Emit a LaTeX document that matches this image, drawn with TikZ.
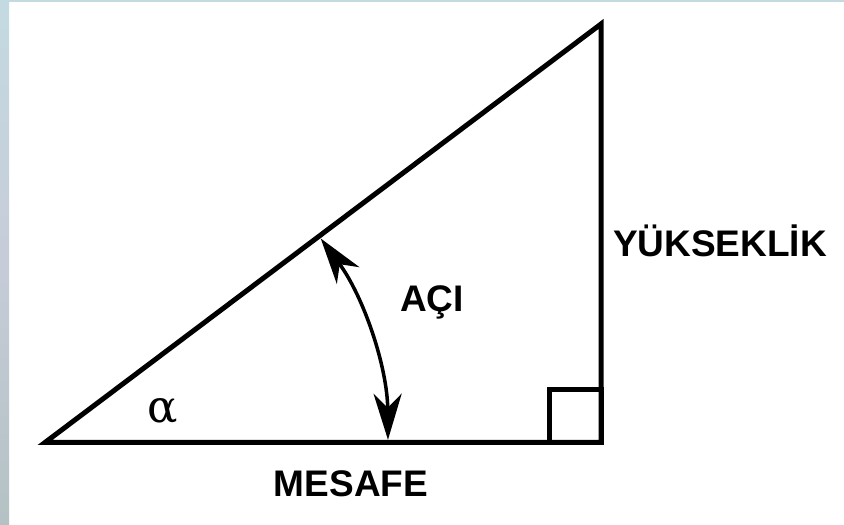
\documentclass[tikz,border=0pt]{standalone}
\usepackage{fontspec}
\setmainfont{Liberation Sans}
\newfontfamily\grserif{DejaVu Serif}
\usetikzlibrary{arrows.meta}
\definecolor{striptop}{HTML}{C4DAE1}
\definecolor{stripmid}{HTML}{C6CCD8}
\definecolor{stripbot}{HTML}{B4C2C4}
\tikzset{
  label/.style={font=\bfseries\fontsize{37}{37}\selectfont, anchor=base, inner sep=0pt},
  edge/.style={line width=5pt, line join=miter},
  bigtip/.tip={Stealth[length=46pt,width=28pt,inset=14pt]}
}
\begin{document}
\begin{tikzpicture}[x=1pt,y=1pt]
\useasboundingbox (0,0) rectangle (844,525);
\fill[white] (0,0) rectangle (844,525);
\shade[top color=striptop, bottom color=stripbot, middle color=stripmid] (0,0) rectangle (9,525);
\fill[striptop] (0,523) rectangle (844,525);
\coordinate (A) at (45,82.5);
\coordinate (B) at (601,82.5);
\coordinate (C) at (601,501);
\draw[edge] (A) -- (B) -- (C) -- cycle;
\draw[line width=5pt] (549,82.5) rectangle (601,135.5);
\coordinate (S) at ([shift={(0.45:343)}]A);
\draw[line width=3.5pt, bigtip-bigtip]
  (S) arc[start angle=0.45, end angle=36.5, radius=343];
\node[label] (h) at (720,268) {YÜKSEKLİK};
\node[label] (d) at (351,28) {MESAFE};
\node[label] (a) at (432,213) {AÇI};
\node[font=\grserif\fontsize{45}{45}\selectfont, anchor=base, inner sep=0pt, line width=0.6pt] (al) at (163,102) {α};
\end{tikzpicture}
\end{document}
